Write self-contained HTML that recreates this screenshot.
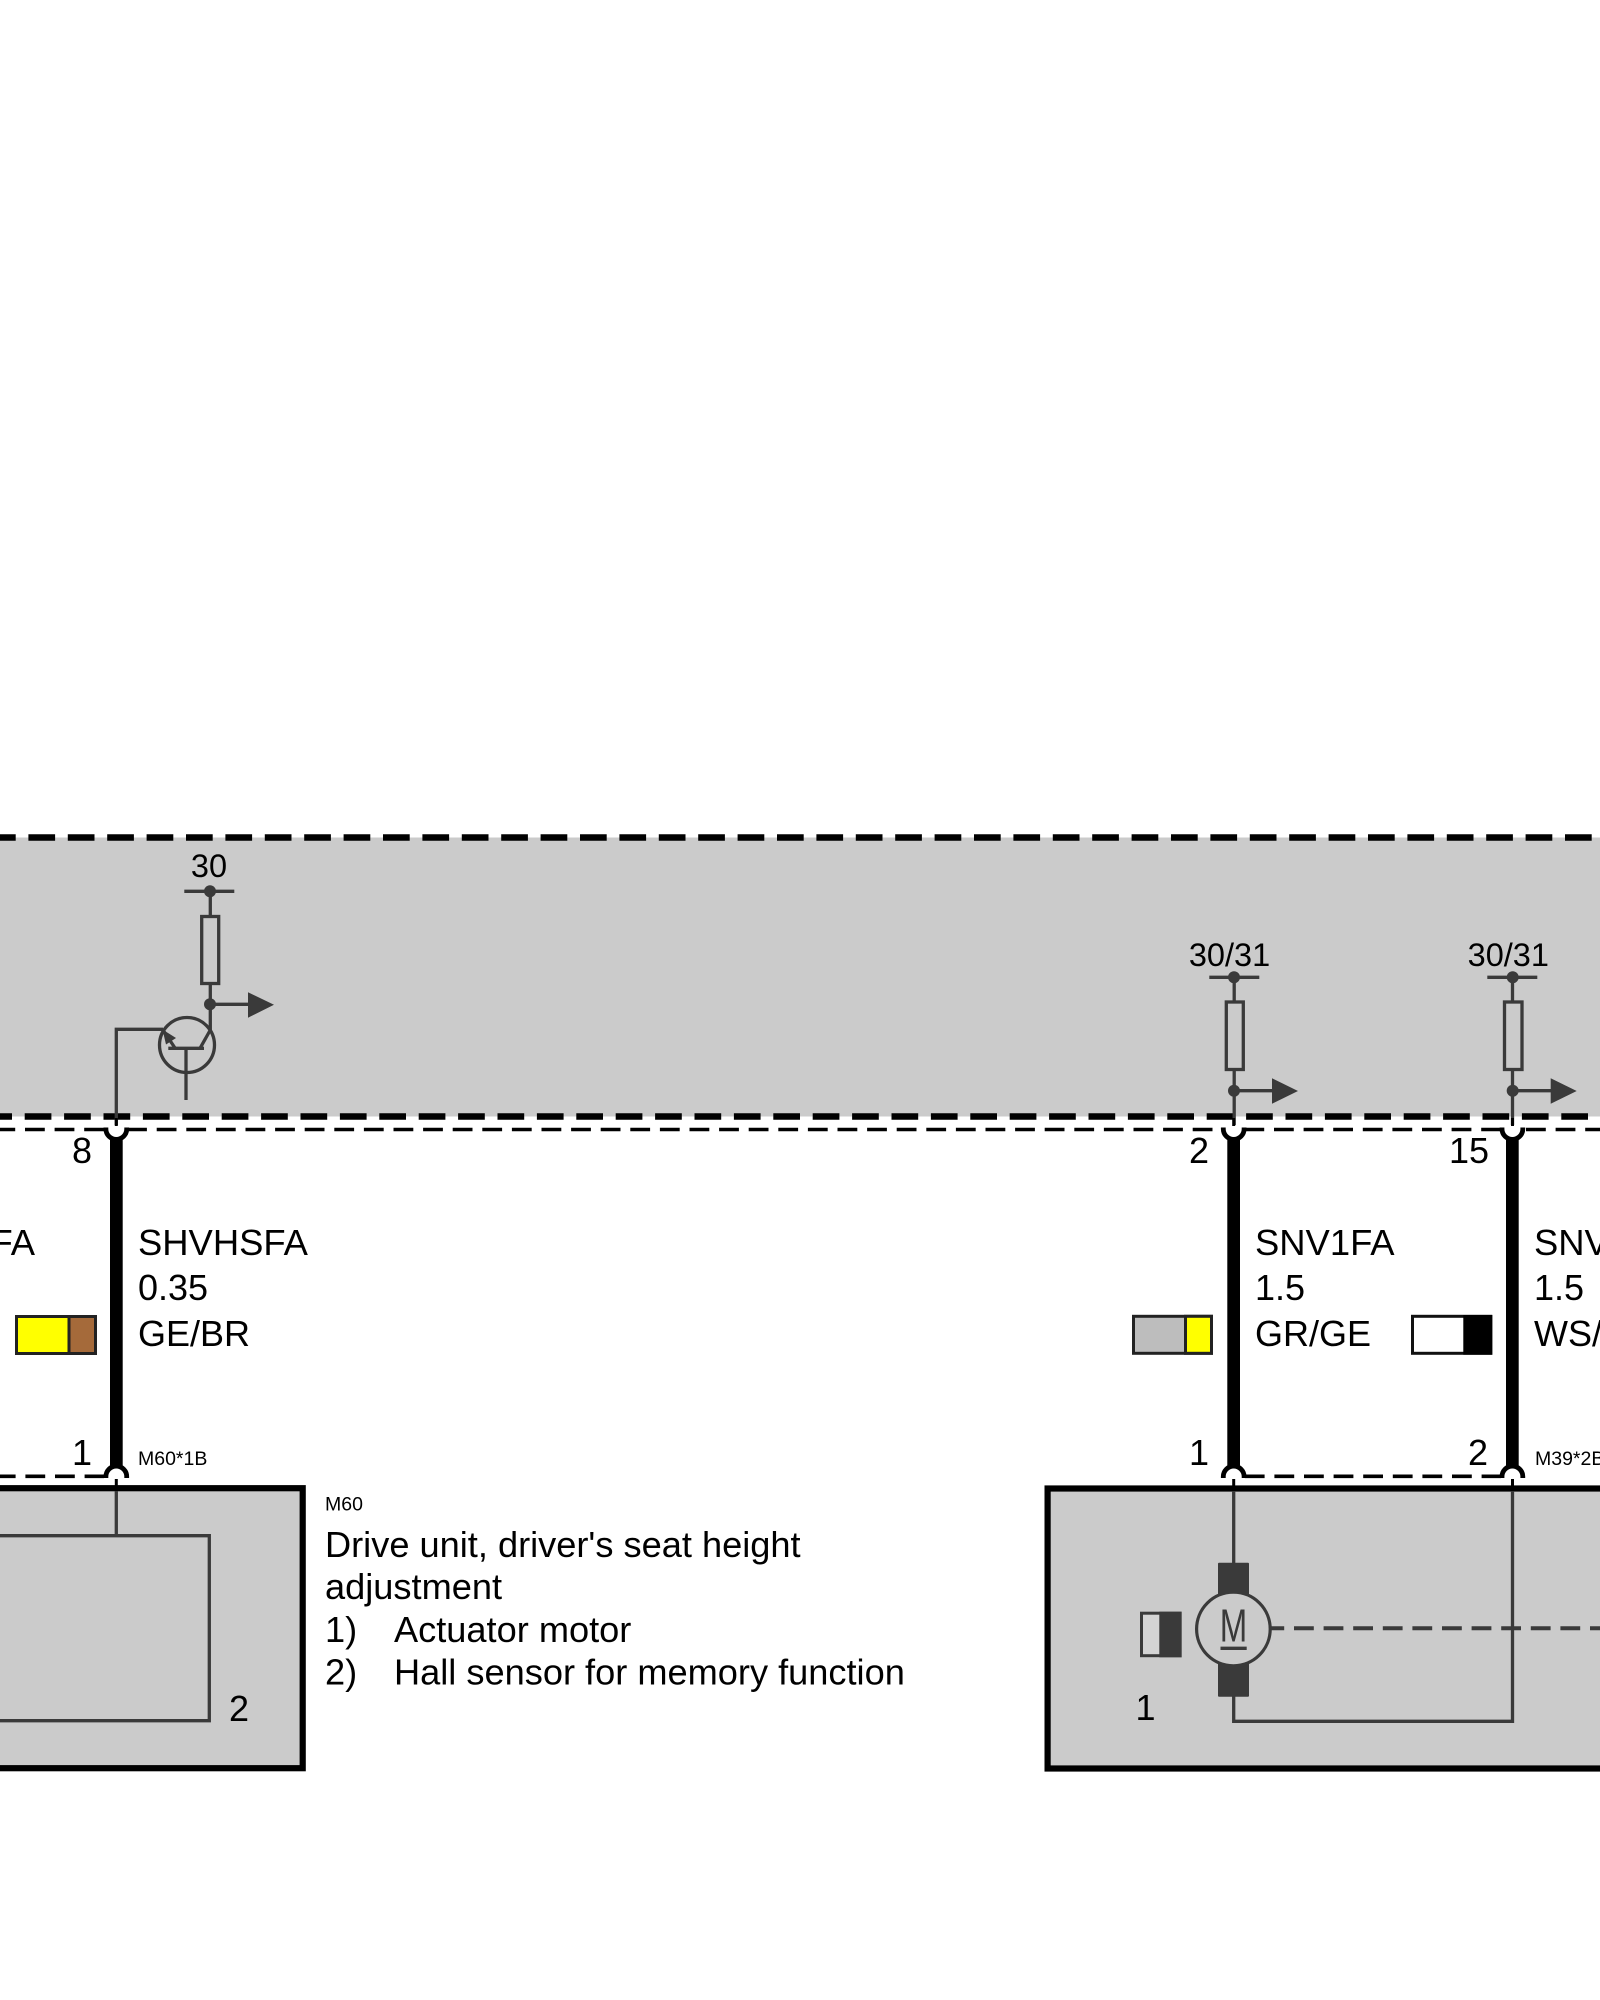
<!DOCTYPE html>
<html><head><meta charset="utf-8"><style>
html,body{margin:0;padding:0;background:#fff;width:1600px;height:2000px;overflow:hidden}
svg{display:block}
text{font-family:"Liberation Sans",sans-serif;fill:#000}
.l{font-size:36px}.n{font-size:36.4px}.h{font-size:36.2px}.t{font-size:32.5px}.s{font-size:19.5px}
.w{stroke:#3a3a3a;stroke-width:3.3;fill:none}
.d{fill:#3a3a3a}
.b{stroke:#000;fill:none}
</style></head><body>
<svg xmlns="http://www.w3.org/2000/svg" width="1600" height="2000" viewBox="0 0 1600 2000">
<rect width="1600" height="2000" fill="#fff"/>
<rect x="0" y="837.5" width="1600" height="279" fill="#cbcbcb"/>
<line x1="-11" y1="837.5" x2="1600" y2="837.5" class="b" stroke-width="6.5" stroke-dasharray="26.7 12.7"/>
<line x1="-14.7" y1="1116.5" x2="1588" y2="1116.5" class="b" stroke-width="6.5" stroke-dasharray="26.7 12.7"/>

<!-- thin dashed lines -->
<g class="b" stroke-width="3.6" stroke-dasharray="19.8 9.8">
<line x1="-4.6" y1="1129.5" x2="105" y2="1129.5"/>
<line x1="127.1" y1="1129.5" x2="1222" y2="1129.5"/>
<line x1="1244.4" y1="1129.5" x2="1501" y2="1129.5"/>
<line x1="1526" y1="1129.5" x2="1600" y2="1129.5"/>
<line x1="-4.2" y1="1476.3" x2="104" y2="1476.3"/>
<line x1="1244.8" y1="1476.3" x2="1501" y2="1476.3"/>
</g>

<!-- thick wires -->
<rect x="110" y="1135" width="12.7" height="335" fill="#000"/>
<rect x="1227.3" y="1135" width="12.7" height="335" fill="#000"/>
<rect x="1506" y="1135" width="12.7" height="335" fill="#000"/>

<!-- connectors -->
<g fill="#fff" stroke="#000" stroke-width="4.8">
<path d="M105.9 1127.5V1129A10.4 10.4 0 0 0 126.7 1129V1127.5"/>
<path d="M1223.3 1127.5V1129A10.4 10.4 0 0 0 1244.1 1129V1127.5"/>
<path d="M1502 1127.5V1129A10.4 10.4 0 0 0 1522.8 1129V1127.5"/>
<path d="M105.9 1478V1476.5A10.4 10.4 0 0 1 126.7 1476.5V1478"/>
<path d="M1223.3 1478V1476.5A10.4 10.4 0 0 1 1244.1 1476.5V1478"/>
<path d="M1502 1478V1476.5A10.4 10.4 0 0 1 1522.8 1476.5V1478"/>
</g>

<!-- component boxes -->
<rect x="-10" y="1488.2" width="312.7" height="280" fill="#cbcbcb" stroke="#000" stroke-width="6.2"/>
<rect x="1047.6" y="1488.5" width="570" height="280" fill="#cbcbcb" stroke="#000" stroke-width="6.2"/>

<!-- left module: transistor -->
<text x="209" y="877" class="t" text-anchor="middle">30</text>
<line x1="184.3" y1="891.3" x2="234.3" y2="891.3" class="w"/>
<circle cx="210" cy="891.3" r="6" class="d"/>
<line x1="210.3" y1="891" x2="210.3" y2="916" class="w"/>
<rect x="201.7" y="916.5" width="17" height="67" class="w"/>
<line x1="210.3" y1="984" x2="210.3" y2="1031" class="w"/>
<circle cx="210" cy="1004.3" r="6" class="d"/>
<line x1="210" y1="1004.3" x2="249" y2="1004.3" class="w"/>
<polygon points="248,992.3 274,1004.7 248,1017.7" class="d"/>
<circle cx="187" cy="1045" r="27.5" class="w"/>
<path d="M116.3 1125V1029.3H163" class="w"/>
<line x1="210.3" y1="1030" x2="200" y2="1048.3" class="w"/>
<line x1="168.3" y1="1048.3" x2="204" y2="1048.3" class="w"/>
<line x1="186" y1="1048" x2="186" y2="1100" class="w"/>
<line x1="163" y1="1030" x2="175" y2="1048" class="w"/>
<polygon points="162.5,1029.5 176,1038 166,1044.5" class="d"/>

<!-- right modules -->
<text x="1229.5" y="966" class="t" text-anchor="middle">30/31</text>
<line x1="1209.3" y1="977.3" x2="1259.3" y2="977.3" class="w"/>
<circle cx="1234" cy="977.3" r="6" class="d"/>
<line x1="1234.2" y1="977" x2="1234.2" y2="1002" class="w"/>
<rect x="1226.3" y="1002" width="17" height="67.5" class="w"/>
<line x1="1234.2" y1="1070" x2="1234.2" y2="1125" class="w"/>
<circle cx="1234" cy="1090.7" r="6" class="d"/>
<line x1="1234" y1="1090.7" x2="1273" y2="1090.7" class="w"/>
<polygon points="1272,1078.3 1298,1091 1272,1103.7" class="d"/>

<text x="1508.3" y="966" class="t" text-anchor="middle">30/31</text>
<line x1="1487.3" y1="977.3" x2="1537.3" y2="977.3" class="w"/>
<circle cx="1512.7" cy="977.3" r="6" class="d"/>
<line x1="1512.5" y1="977" x2="1512.5" y2="1002" class="w"/>
<rect x="1504.5" y="1002" width="17.5" height="67.5" class="w"/>
<line x1="1512.5" y1="1070" x2="1512.5" y2="1125" class="w"/>
<circle cx="1512.7" cy="1090.7" r="6" class="d"/>
<line x1="1512.7" y1="1090.7" x2="1552" y2="1090.7" class="w"/>
<polygon points="1550.7,1078.3 1576.7,1091 1550.7,1103.7" class="d"/>

<!-- short black stubs below upper dashes -->
<g stroke="#000" stroke-width="3">
<line x1="116.3" y1="1118" x2="116.3" y2="1126"/>
<line x1="1233.7" y1="1118" x2="1233.7" y2="1126"/>
<line x1="1512.5" y1="1118" x2="1512.5" y2="1126"/>
<line x1="116.3" y1="1479" x2="116.3" y2="1491"/>
<line x1="1233.7" y1="1479" x2="1233.7" y2="1491"/>
<line x1="1512.5" y1="1479" x2="1512.5" y2="1491"/>
</g>

<!-- left box wiring -->
<line x1="116.3" y1="1491" x2="116.3" y2="1536" class="w"/>
<path d="M-5 1535.7H209.3V1720.7H-5" class="w"/>
<text x="229" y="1721" class="l">2</text>

<!-- motor -->
<line x1="1233.7" y1="1491" x2="1233.7" y2="1564" class="w"/>
<rect x="1218" y="1562.7" width="31" height="34" rx="1" class="d"/>
<rect x="1218" y="1663" width="31" height="33.7" rx="1" class="d"/>
<circle cx="1233.4" cy="1629" r="36.8" fill="#cbcbcb" stroke="#3a3a3a" stroke-width="3.2"/>
<text x="1219.8" y="1641.7" font-size="46" textLength="27.5" lengthAdjust="spacingAndGlyphs" style="fill:#3a3a3a">M</text>
<line x1="1220.5" y1="1648.3" x2="1246.7" y2="1648.3" class="w"/>
<path d="M1233.7 1696V1721.3H1512.5V1491" class="w"/>
<line x1="1264.4" y1="1628.3" x2="1600" y2="1628.3" stroke="#3a3a3a" stroke-width="4" stroke-dasharray="19.8 9.8" clip-path="url(#c)"/>
<clipPath id="c"><rect x="1271.5" y="1620" width="330" height="20"/></clipPath>
<rect x="1141.5" y="1613.2" width="38.5" height="42.5" fill="#d4d4d4" stroke="#3a3a3a" stroke-width="3"/>
<rect x="1159.3" y="1611.7" width="22.4" height="45.6" class="d"/>
<text x="1135.5" y="1720" class="l">1</text>

<!-- pin numbers -->
<text x="92" y="1163" class="l" text-anchor="end">8</text>
<text x="92" y="1465" class="l" text-anchor="end">1</text>
<text x="1209" y="1163" class="l" text-anchor="end">2</text>
<text x="1209" y="1465" class="l" text-anchor="end">1</text>
<text x="1489" y="1163" class="l" text-anchor="end">15</text>
<text x="1488" y="1465" class="l" text-anchor="end">2</text>

<!-- wire labels -->
<text x="35" y="1255" class="n" text-anchor="end">FA</text>
<text x="138" y="1255" class="n">SHVHSFA</text>
<text x="138" y="1300" class="l">0.35</text>
<text x="138" y="1346" class="l">GE/BR</text>
<text x="1255" y="1255" class="n">SNV1FA</text>
<text x="1255" y="1300" class="l">1.5</text>
<text x="1255" y="1346" class="l">GR/GE</text>
<text x="1534" y="1255" class="n">SNV2FA</text>
<text x="1534" y="1300" class="l">1.5</text>
<text x="1534" y="1346" class="l">WS/SW</text>

<!-- connector codes -->
<text x="138" y="1465" class="s">M60*1B</text>
<text x="1535" y="1465" class="s">M39*2B</text>
<text x="325" y="1510.7" class="s">M60</text>

<!-- swatches -->
<rect x="16.5" y="1316.5" width="79" height="37" fill="#ffff00" stroke="#222" stroke-width="3"/>
<rect x="69" y="1316.5" width="26.5" height="37" fill="#a56a3a" stroke="#222" stroke-width="3"/>
<rect x="1133.5" y="1316.3" width="78" height="37" fill="#bdbdbd" stroke="#222" stroke-width="3"/>
<rect x="1185.5" y="1316.3" width="26" height="37" fill="#ffff00" stroke="#222" stroke-width="3"/>
<rect x="1412.5" y="1316.3" width="78.3" height="37" fill="#fff" stroke="#111" stroke-width="3"/>
<rect x="1463.3" y="1315" width="29" height="39.7" fill="#000"/>

<!-- description -->
<text x="325" y="1557" class="h">Drive unit, driver's seat height</text>
<text x="325" y="1599" class="h">adjustment</text>
<text x="325" y="1642.2" class="h">1)</text>
<text x="394" y="1642.2" class="h">Actuator motor</text>
<text x="325" y="1684.7" class="h">2)</text>
<text x="394" y="1684.7" class="h">Hall sensor for memory function</text>
</svg>
</body></html>
